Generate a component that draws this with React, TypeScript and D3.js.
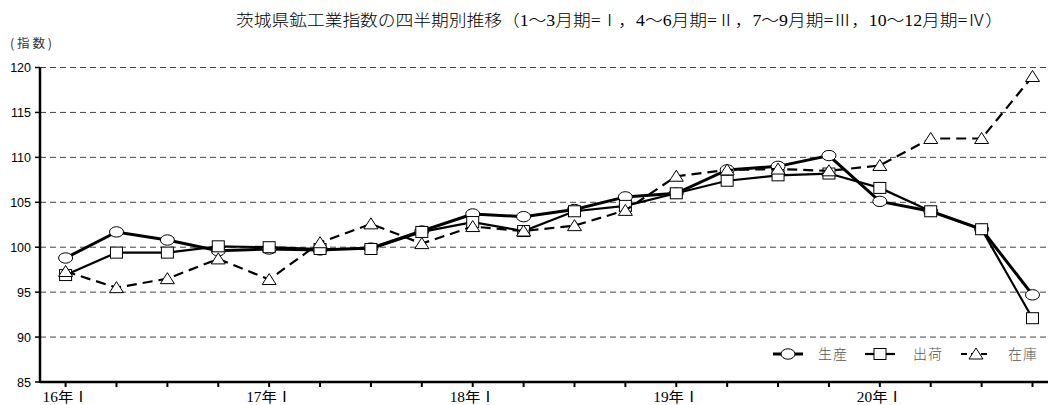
import React from 'react';
import * as d3 from 'd3';

const quarters = [
  '16Q1', '16Q2', '16Q3', '16Q4',
  '17Q1', '17Q2', '17Q3', '17Q4',
  '18Q1', '18Q2', '18Q3', '18Q4',
  '19Q1', '19Q2', '19Q3', '19Q4',
  '20Q1', '20Q2', '20Q3', '20Q4',
];
const tickLabels = ['16年Ⅰ', '', '', '', '17年Ⅰ', '', '', '', '18年Ⅰ', '', '', '', '19年Ⅰ', '', '', '', '20年Ⅰ', '', '', ''];
const production = [98.8, 101.7, 100.8, 99.6, 99.8, 99.7, 99.9, 101.8, 103.7, 103.4, 104.2, 105.6, 106.0, 108.6, 109.0, 110.2, 105.1, 104.0, 102.0, 94.7];
const shipment = [96.9, 99.4, 99.4, 100.1, 100.0, 99.8, 99.8, 101.7, 102.8, 101.8, 104.0, 104.6, 106.0, 107.4, 108.0, 108.2, 106.6, 104.0, 102.0, 92.1];
const inventory = [97.3, 95.5, 96.5, 98.7, 96.4, 100.5, 102.6, 100.4, 102.3, 101.8, 102.4, 104.1, 107.9, 108.6, 108.7, 108.5, 109.1, 112.1, 112.1, 119.0];
const yTicks = [85, 90, 95, 100, 105, 110, 115, 120];
const legendNames = ['生産', '出荷', '在庫'];

const W = 1048;
const H = 405;
const serif = '"Liberation Serif", "Noto Sans CJK JP", serif';
const sans = '"Liberation Sans", Arial, sans-serif';
const gothic = '"Noto Sans CJK JP", sans-serif';

const Marker = ({ kind, x, y }: { kind: string; x: number; y: number }) => {
  if (kind === 'circle')
    return <ellipse cx={x} cy={y} rx={7} ry={5.2} fill="#fff" stroke="#000" strokeWidth={1} />;
  if (kind === 'square')
    return <rect x={x - 6} y={y - 5.5} width={12} height={11} fill="#fff" stroke="#000" strokeWidth={1} />;
  return (
    <path
      d={`M${x},${y - 6}L${x + 7},${y + 5}L${x - 7},${y + 5}Z`}
      fill="#fff"
      stroke="#000"
      strokeWidth={1}
    />
  );
};

const App = () => {
  const axisX = 40;
  const x = d3.scalePoint<string>().domain(quarters).range([65.6, 1032.5]);
  const y = d3.scaleLinear().domain([85, 120]).range([382, 67.5]);

  const series = [
    { name: legendNames[0], values: production, kind: 'circle', width: 3, dash: undefined },
    { name: legendNames[1], values: shipment, kind: 'square', width: 2.2, dash: undefined },
    { name: legendNames[2], values: inventory, kind: 'triangle', width: 2.2, dash: '10,6' },
  ];

  const line = d3
    .line<number>()
    .x((_, i) => x(quarters[i]) as number)
    .y((d) => y(d));

  const legendY = 354;
  const legendItems = [
    { sx: 788, tx: 818 },
    { sx: 880, tx: 913 },
    { sx: 976, tx: 1008 },
  ];

  return (
    <svg width={W} height={H} style={{ position: 'absolute', left: 0, top: 0, background: '#fff' }}>
      <text
        x={236}
        y={26}
        textLength={767}
        lengthAdjust="spacingAndGlyphs"
        fontFamily={serif}
        fontSize={16}
        fontWeight={300}
        fill="#000"
      >
        茨城県鉱工業指数の四半期別推移（1～3月期=Ⅰ，4～6月期=Ⅱ，7～9月期=Ⅲ，10～12月期=Ⅳ）
      </text>
      <text x={10} y={48} textLength={42} fontFamily={gothic} fontSize={12.5} fill="#333">
        (指数)
      </text>

      {yTicks.map((t) => (
        <g key={t}>
          <line x1={axisX} x2={W} y1={y(t)} y2={y(t)} stroke="#444" strokeWidth={1} strokeDasharray="6,4" />
          <line x1={axisX - 5} x2={axisX} y1={y(t)} y2={y(t)} stroke="#000" strokeWidth={1.5} />
          <text x={31} y={y(t) + 4.5} textAnchor="end" fontFamily={sans} fontSize={12.5} fill="#000">
            {t}
          </text>
        </g>
      ))}

      <line x1={axisX} x2={axisX} y1={y(120)} y2={y(85) + 1} stroke="#000" strokeWidth={2.5} />
      <line x1={axisX} x2={W} y1={y(85)} y2={y(85)} stroke="#000" strokeWidth={2.5} />
      {quarters.map((q, i) => (
        <g key={q}>
          <line x1={x(q)} x2={x(q)} y1={y(85)} y2={y(85) + 5} stroke="#000" strokeWidth={2} />
          {tickLabels[i] && (
            <text
              x={(x(q) as number) - 23}
              y={402}
              textLength={46}
              lengthAdjust="spacingAndGlyphs"
              fontFamily={serif}
              fontSize={14}
              fill="#000"
            >
              {tickLabels[i]}
            </text>
          )}
        </g>
      ))}

      {series.map((s) => (
        <g key={s.name}>
          <path d={line(s.values) || ''} fill="none" stroke="#000" strokeWidth={s.width} strokeDasharray={s.dash} />
          {s.values.map((v, i) => (
            <Marker key={i} kind={s.kind} x={x(quarters[i]) as number} y={y(v)} />
          ))}
        </g>
      ))}

      {series.map((s, i) => (
        <g key={'lg' + s.name}>
          <line
            x1={legendItems[i].sx - 15}
            x2={legendItems[i].sx + 15}
            y1={legendY}
            y2={legendY}
            stroke="#000"
            strokeWidth={s.width}
            strokeDasharray={s.dash ? '6,4' : undefined}
          />
          <Marker kind={s.kind} x={legendItems[i].sx} y={legendY} />
          <text
            x={legendItems[i].tx}
            y={legendY + 5}
            textLength={29}
            fontFamily={serif}
            fontSize={14}
            fontWeight={300}
            fill="#555"
          >
            {s.name}
          </text>
        </g>
      ))}
    </svg>
  );
};

export default App;
